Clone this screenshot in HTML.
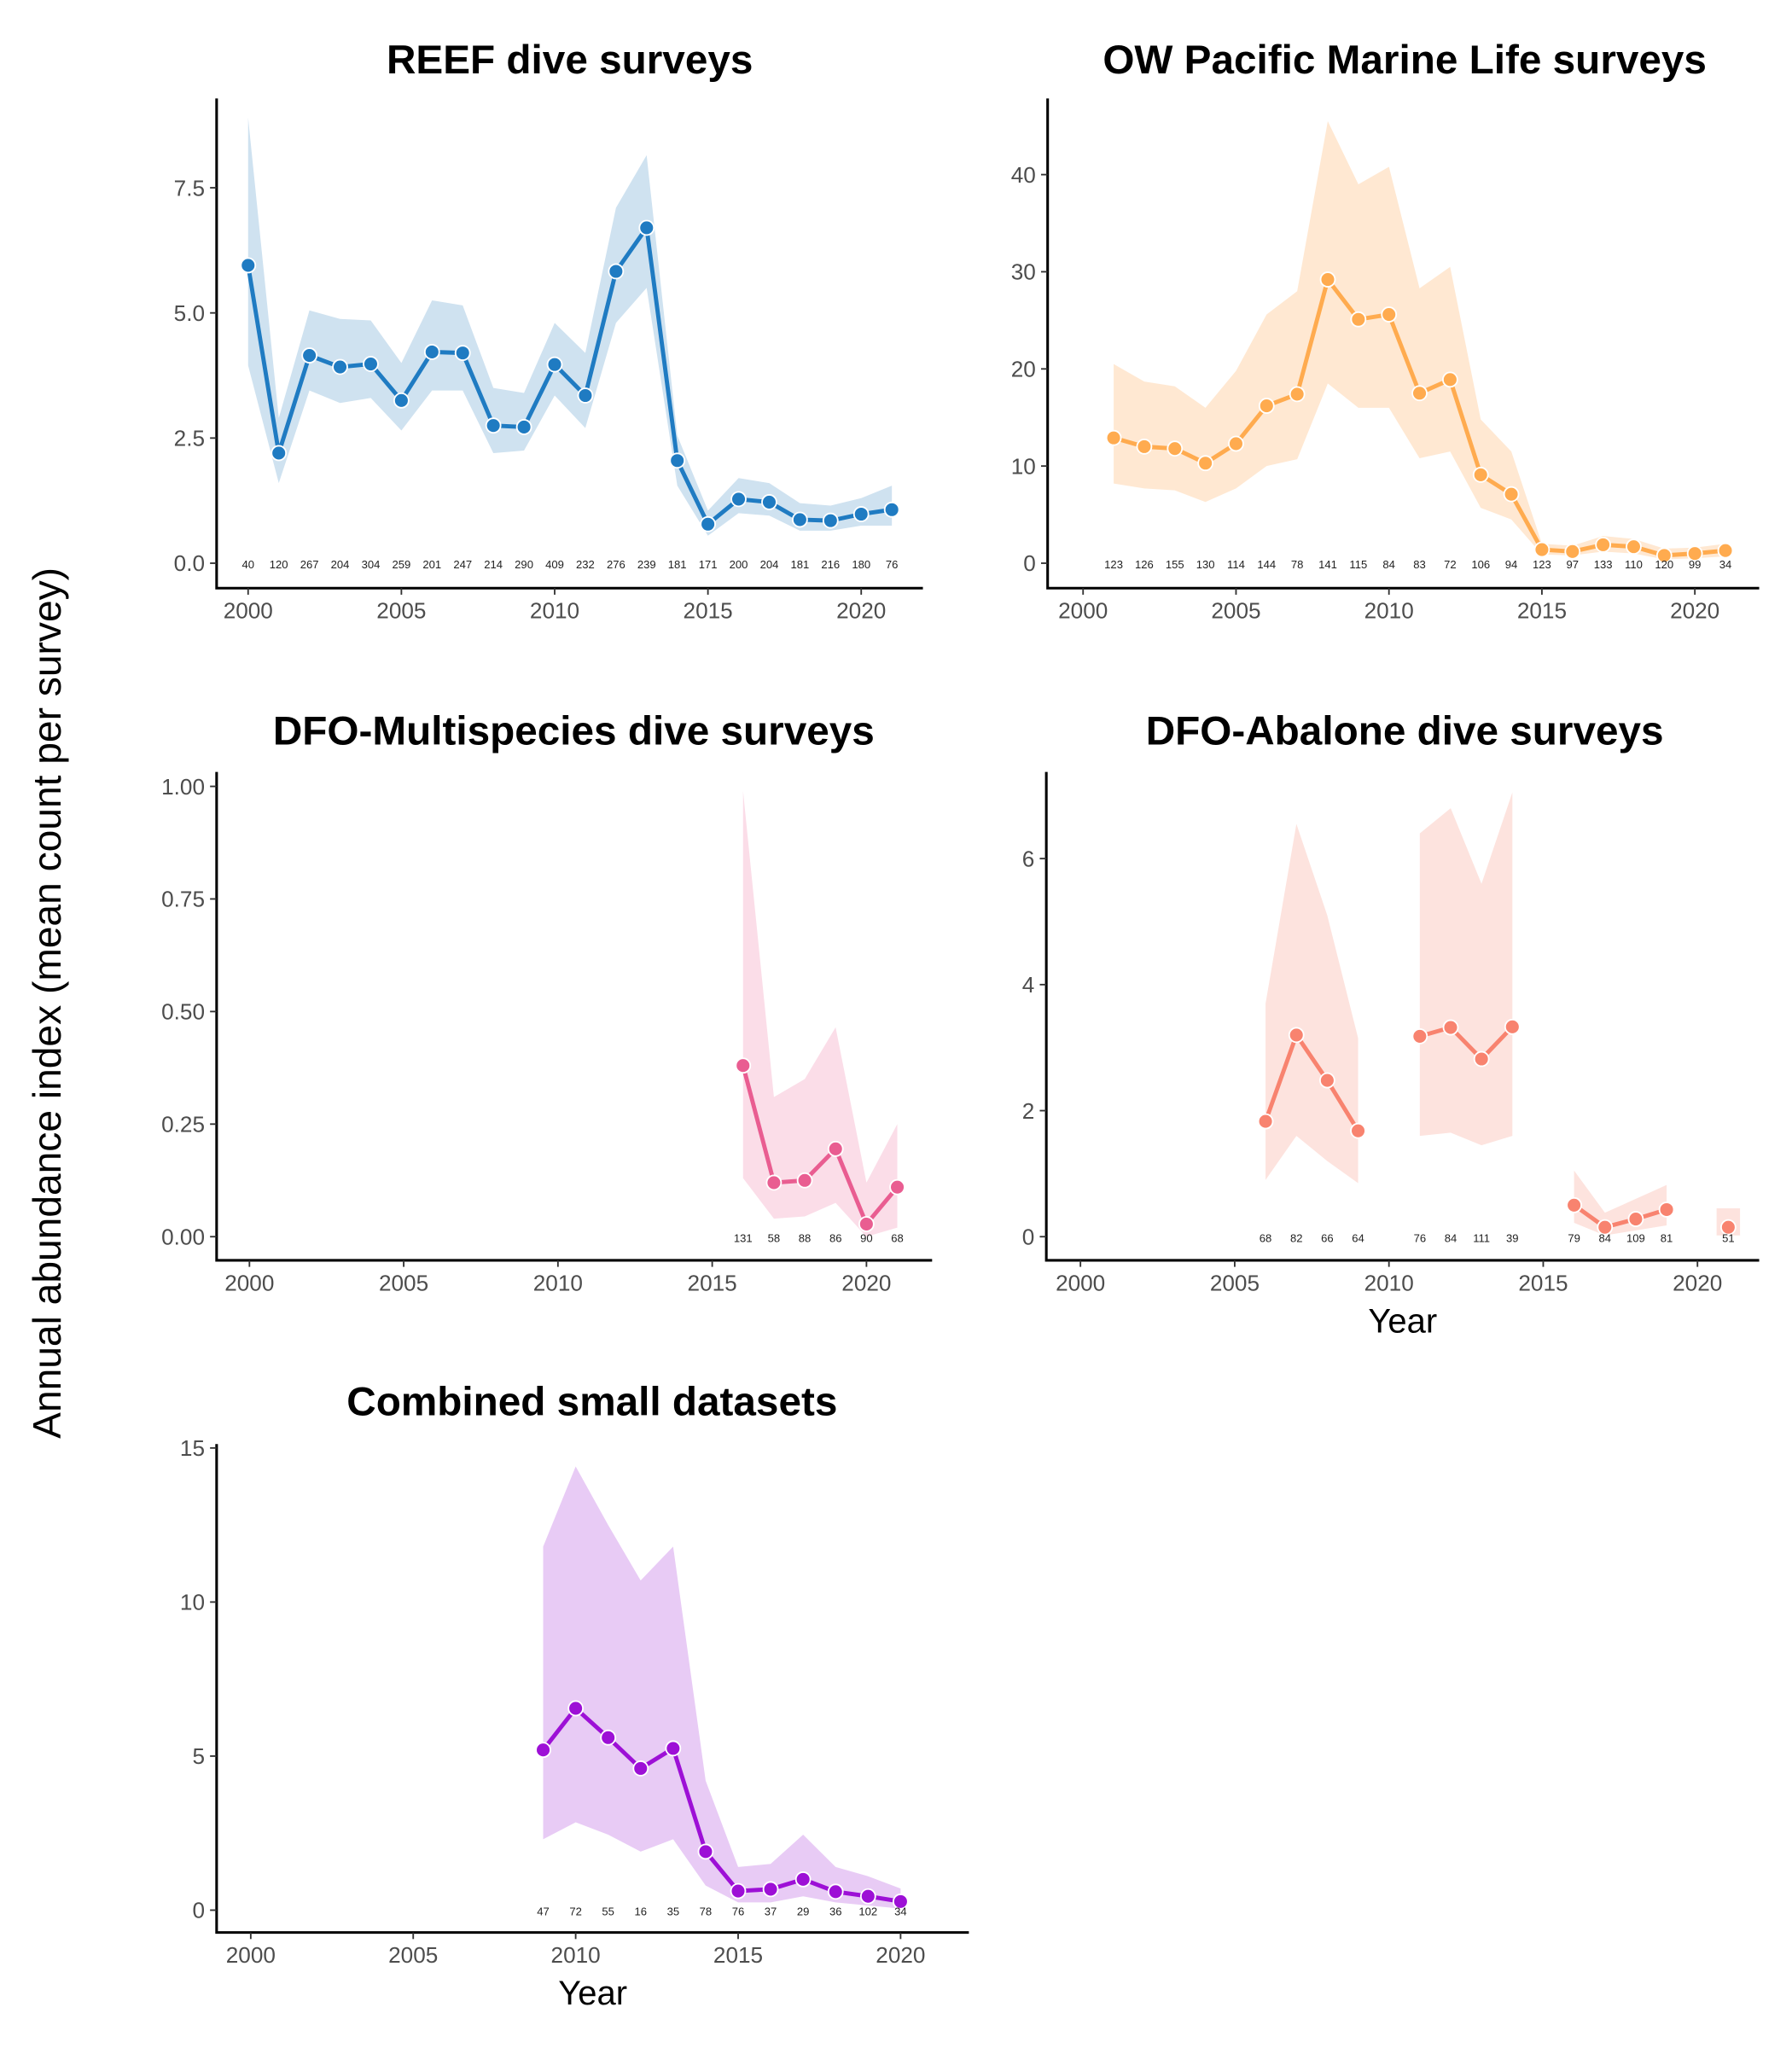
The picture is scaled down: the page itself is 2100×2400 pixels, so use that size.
<!DOCTYPE html>
<html><head><meta charset="utf-8"><style>
html,body{margin:0;padding:0;background:#fff}
svg{display:block}
text{font-family:"Liberation Sans",Arial,sans-serif}
</style></head><body>
<svg id="fig" width="2100" height="2400" viewBox="0 0 1365 1560" xmlns="http://www.w3.org/2000/svg">
<text x="0" y="0" transform="translate(46,764) rotate(-90)" text-anchor="middle" font-size="30" fill="#000">Annual abundance index (mean count per survey)</text>
</svg>
<script>
// REEF
const reefYears=[2000,2001,2002,2003,2004,2005,2006,2007,2008,2009,2010,2011,2012,2013,2014,2015,2016,2017,2018,2019,2020,2021];
const reefMean=[5.95,2.2,4.15,3.92,3.98,3.25,4.22,4.2,2.75,2.72,3.97,3.35,5.83,6.7,2.05,0.78,1.28,1.22,0.87,0.85,0.98,1.07];
const reefLo=[3.95,1.6,3.45,3.2,3.3,2.65,3.45,3.45,2.2,2.25,3.35,2.7,4.8,5.5,1.55,0.55,1.0,0.95,0.65,0.65,0.75,0.75];
const reefHi=[8.9,2.9,5.05,4.88,4.85,4.0,5.25,5.15,3.5,3.4,4.8,4.2,7.1,8.15,2.55,1.05,1.7,1.6,1.2,1.15,1.3,1.55];
const reefN=[40,120,267,204,304,259,201,247,214,290,409,232,276,239,181,171,200,204,181,216,180,76];
const reefTicks=[0,2.5,5,7.5];const reefTickLabels=["0.0","2.5","5.0","7.5"];
// OW Pacific
const owYears=[2001,2002,2003,2004,2005,2006,2007,2008,2009,2010,2011,2012,2013,2014,2015,2016,2017,2018,2019,2020,2021];
const owMean=[12.9,12.0,11.8,10.3,12.3,16.2,17.4,29.2,25.1,25.6,17.5,18.9,9.1,7.1,1.4,1.2,1.9,1.7,0.8,1.0,1.3];
const owLo=[8.2,7.7,7.5,6.3,7.7,10.0,10.7,18.5,16.0,16.0,10.8,11.5,5.7,4.5,0.9,0.8,1.2,1.0,0.4,0.5,0.7];
const owHi=[20.5,18.7,18.2,16.0,19.8,25.6,28.0,45.5,39.0,40.8,28.3,30.5,14.8,11.5,2.0,1.8,2.8,2.5,1.5,1.6,2.0];
const owN=[123,126,155,130,114,144,78,141,115,84,83,72,106,94,123,97,133,110,120,99,34];
const owTicks=[0,10,20,30,40];const owTickLabels=["0","10","20","30","40"];
// DFO multispecies
const msYears=[2016,2017,2018,2019,2020,2021];
const msMean=[0.38,0.12,0.125,0.195,0.028,0.11];
const msLo=[0.13,0.04,0.045,0.075,0.0,0.02];
const msHi=[0.99,0.31,0.35,0.465,0.12,0.25];
const msN=[131,58,88,86,90,68];
const msTicks=[0,0.25,0.5,0.75,1];const msTickLabels=["0.00","0.25","0.50","0.75","1.00"];
// DFO abalone (null = gap)
const abYears=[2006,2007,2008,2009,2010,2011,2012,2013,2014,2015,2016,2017,2018,2019,2020,2021];
const abMean=[1.83,3.2,2.48,1.68,null,3.18,3.32,2.82,3.33,null,0.5,0.15,0.28,0.43,null,0.15];
const abLo=[0.9,1.6,1.2,0.85,null,1.6,1.65,1.45,1.6,null,0.22,0.02,0.1,0.18,null,0.02];
const abHi=[3.7,6.55,5.1,3.15,null,6.4,6.8,5.6,7.05,null,1.05,0.38,0.6,0.82,null,0.45];
const abN=[68,82,66,64,null,76,84,111,39,null,79,84,109,81,null,51];
const abTicks=[0,2,4,6];const abTickLabels=["0","2","4","6"];
// Combined
const cbYears=[2009,2010,2011,2012,2013,2014,2015,2016,2017,2018,2019,2020];
const cbMean=[5.2,6.55,5.6,4.6,5.25,1.9,0.62,0.68,1.0,0.6,0.45,0.28];
const cbLo=[2.3,2.85,2.45,1.9,2.3,0.8,0.25,0.25,0.45,0.25,0.15,0.05];
const cbHi=[11.8,14.4,12.5,10.7,11.8,4.2,1.4,1.5,2.45,1.4,1.1,0.7];
const cbN=[47,72,55,16,35,78,76,37,29,36,102,34];
const cbTicks=[0,5,10,15];const cbTickLabels=["0","5","10","15"];
const xTicks=[2000,2005,2010,2015,2020];

const NS="http://www.w3.org/2000/svg";
const svg=document.getElementById('fig');
function mk(tag,attrs,parent){const e=document.createElementNS(NS,tag);for(const k in attrs)e.setAttribute(k,attrs[k]);(parent||svg).appendChild(e);return e;}

function panel(o){
  const g=mk('g',{});
  
  
  const xs=y=>o.x0+(y-2000)*(o.x20-o.x0)/20;
  const ys=v=>o.y0-v*o.yPer;
  let segs=[],cur=[];
  o.years.forEach((yr,i)=>{if(o.mean[i]==null){if(cur.length)segs.push(cur);cur=[];}else cur.push(i);});
  if(cur.length)segs.push(cur);
  segs.forEach(s=>{
    let d;
    if(s.length===1){const i=s[0];const hw=(o.x20-o.x0)/20*0.38;
      d=`M${xs(o.years[i])-hw},${ys(o.hi[i])}L${xs(o.years[i])+hw},${ys(o.hi[i])}L${xs(o.years[i])+hw},${ys(o.lo[i])}L${xs(o.years[i])-hw},${ys(o.lo[i])}Z`;}
    else{d='M'+s.map(i=>xs(o.years[i])+','+ys(o.hi[i])).join('L')+'L'+s.slice().reverse().map(i=>xs(o.years[i])+','+ys(o.lo[i])).join('L')+'Z';}
    const r=mk('path',{d,fill:o.fill},g);
    
    
    if(s.length>1){const l=mk('path',{d:'M'+s.map(i=>xs(o.years[i])+','+ys(o.mean[i])).join('L'),fill:'none',stroke:o.color,'stroke-width':3.2,'stroke-linejoin':'round'},g);
      
      }
  });
  o.years.forEach((yr,i)=>{
    if(o.mean[i]==null)return;
    const c=mk('circle',{cx:xs(yr),cy:ys(o.mean[i]),r:5.5,fill:o.color,stroke:'#fff','stroke-width':1.2},g);
    
    
    const t=mk('text',{x:xs(yr),y:o.y0+4,'font-size':8.5,'text-anchor':'middle',fill:'#222'},g);
    t.textContent=o.n[i];
    
    
  });
  const ax=mk('path',{d:`M${o.ax},${o.top}L${o.ax},${o.bot}L${o.right},${o.bot}`,fill:'none',stroke:'#000','stroke-width':2},g);
  
  
  xTicks.forEach(t=>{
    mk('line',{x1:xs(t),x2:xs(t),y1:o.bot,y2:o.bot+5,stroke:'#333','stroke-width':1.2},g);
    const tx=mk('text',{x:xs(t),y:o.bot+23,'font-size':17,'text-anchor':'middle',fill:'#4d4d4d'},g);
    tx.textContent=t;
    
    
  });
  o.ticks.forEach((t,i)=>{
    mk('line',{x1:o.ax-5,x2:o.ax,y1:ys(t),y2:ys(t),stroke:'#333','stroke-width':1.2},g);
    const tx=mk('text',{x:o.ax-9,y:ys(t)+6,'font-size':17,'text-anchor':'end',fill:'#4d4d4d'},g);
    tx.textContent=o.tickLabels[i];
    
    
  });
  const ti=mk('text',{x:o.tx,y:o.ty,'font-size':31,'font-weight':'bold','text-anchor':'middle',fill:'#000'},g);
  ti.textContent=o.title;
  
  
  if(o.xlabel){const xl=mk('text',{x:(o.ax+o.right)/2,y:o.bot+55,'font-size':26,'text-anchor':'middle',fill:'#000'},g);
    xl.textContent='Year';
    
    }
}
panel({name:'reef-panel',title:'REEF dive surveys',tx:434,ty:56,years:reefYears,mean:reefMean,lo:reefLo,hi:reefHi,n:reefN,ticks:reefTicks,tickLabels:reefTickLabels,
  x0:189,x20:656,y0:429,yPer:38.13,ax:165,top:75,bot:448,right:703,color:'#1f7bc2',fill:'#cfe2f0'});
panel({name:'ow-pacific-panel',title:'OW Pacific Marine Life surveys',tx:1070,ty:56,years:owYears,mean:owMean,lo:owLo,hi:owHi,n:owN,ticks:owTicks,tickLabels:owTickLabels,
  x0:825,x20:1291,y0:429,yPer:7.4,ax:798,top:75,bot:448,right:1340,color:'#ffab4f',fill:'#ffe8d2'});
panel({name:'dfo-multispecies-panel',title:'DFO-Multispecies dive surveys',tx:437,ty:567,years:msYears,mean:msMean,lo:msLo,hi:msHi,n:msN,ticks:msTicks,tickLabels:msTickLabels,
  x0:190,x20:660,y0:942,yPer:343,ax:165,top:588,bot:960,right:710,color:'#e95d91',fill:'#fbdde8'});
panel({name:'dfo-abalone-panel',title:'DFO-Abalone dive surveys',tx:1070,ty:567,years:abYears,mean:abMean,lo:abLo,hi:abHi,n:abN,ticks:abTicks,tickLabels:abTickLabels,
  x0:823,x20:1293,y0:942,yPer:48,ax:797,top:588,bot:960,right:1340,color:'#f8836f',fill:'#fde3de',xlabel:true});
panel({name:'combined-panel',title:'Combined small datasets',tx:451,ty:1078,years:cbYears,mean:cbMean,lo:cbLo,hi:cbHi,n:cbN,ticks:cbTicks,tickLabels:cbTickLabels,
  x0:191,x20:686,y0:1455,yPer:23.47,ax:165,top:1100,bot:1472,right:738,color:'#9d10d6',fill:'#e8cbf5',xlabel:true});
</script>
</body></html>
